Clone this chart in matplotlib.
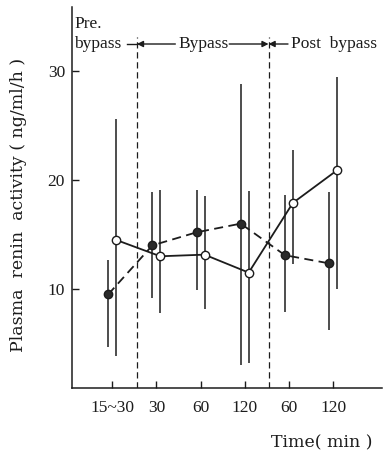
import matplotlib
matplotlib.use("Agg")
import matplotlib.pyplot as plt
import numpy as np

plt.rcParams['font.family'] = ['Liberation Serif', 'DejaVu Serif']

tick_labels = ["15~30", "30", "60", "120", "60", "120"]
x_pos = np.arange(6)

# open circles, solid line
open_mean = [14.5, 13.0, 13.15, 11.5, 17.9, 20.9]
open_low = [3.85, 7.8, 8.2, 3.2, 12.3, 10.0]
open_high = [25.6, 19.1, 18.5, 19.0, 22.8, 29.5]

# filled circles, dashed line
fill_mean = [9.5, 14.0, 15.2, 16.0, 13.1, 12.35]
fill_low = [4.7, 9.15, 9.9, 3.0, 7.9, 6.2]
fill_high = [12.7, 18.9, 19.1, 28.8, 18.6, 18.9]

phase_bounds = [0.56, 3.54]
ink = "#1c1c1c"

fig = plt.figure(figsize=(3.84, 4.51), dpi=100)
ax = fig.add_axes([0.1875, 0.1397, 0.8075, 0.8448])

off = 0.09
xo = x_pos + off
xf = x_pos - off

ax.vlines(xo, open_low, open_high, color=ink, lw=1.1, zorder=2)
ax.vlines(xf, fill_low, fill_high, color=ink, lw=1.1, zorder=2)
ax.plot(xf, fill_mean, color=ink, lw=1.3, ls=(0, (5, 3)), marker='o', ms=6,
        mfc="#2a2a2a", mec=ink, mew=1.0, zorder=3)
ax.plot(xo, open_mean, color=ink, lw=1.3, ls='-', marker='o', ms=6,
        mfc="white", mec=ink, mew=1.0, zorder=4)

ytop = 32.5
for b in phase_bounds:
    ax.vlines(b, 0.9, ytop + 0.6, color=ink, lw=0.9, ls=(0, (5, 3)), zorder=1)

fs = 12.5
ax.text(-0.86, 34.3, "Pre.", fontsize=fs, ha='left', va='center', color=ink)
ax.text(-0.86, ytop, "bypass", fontsize=fs, ha='left', va='center', color=ink)
ax.plot([0.33, phase_bounds[0]], [ytop, ytop], color=ink, lw=1.0)
ax.text(2.06, ytop, "Bypass", fontsize=fs, ha='center', va='center', color=ink)
arrow_kw = dict(arrowstyle='-|>', color=ink, lw=1.0, mutation_scale=9,
                shrinkA=0, shrinkB=0)
ax.annotate("", xy=(phase_bounds[0], ytop), xytext=(1.43, ytop), arrowprops=arrow_kw)
ax.annotate("", xy=(phase_bounds[1], ytop), xytext=(2.65, ytop), arrowprops=arrow_kw)
ax.annotate("", xy=(phase_bounds[1], ytop), xytext=(3.98, ytop), arrowprops=arrow_kw)
ax.text(4.05, ytop, "Post  bypass", fontsize=fs, ha='left', va='center', color=ink)

ax.set_xlim(-0.91, 6.11)
ax.set_ylim(0.9, 35.9)
ax.set_xticks(x_pos)
ax.set_xticklabels(tick_labels)
ax.set_yticks([10, 20, 30])
ax.tick_params(direction='in', length=5, width=1.0, labelsize=fs, colors=ink)
ax.tick_params(axis='x', pad=9)
ax.tick_params(axis='y', pad=5)
for s in ['top', 'right']:
    ax.spines[s].set_visible(False)
for s in ['left', 'bottom']:
    ax.spines[s].set_linewidth(1.1)
    ax.spines[s].set_color(ink)

fig.text(19 / 384, 1 - 204.5 / 451, "Plasma  renin  activity ( ng/ml/h )",
         fontsize=12.5, family='DejaVu Serif', rotation=90, ha='center',
         va='center', color=ink)
fig.text(322 / 384, 1 - 443 / 451, "Time( min )", fontsize=12.5,
         family='DejaVu Serif', ha='center', va='center', color=ink)

fig.savefig("out.png", dpi=100)
